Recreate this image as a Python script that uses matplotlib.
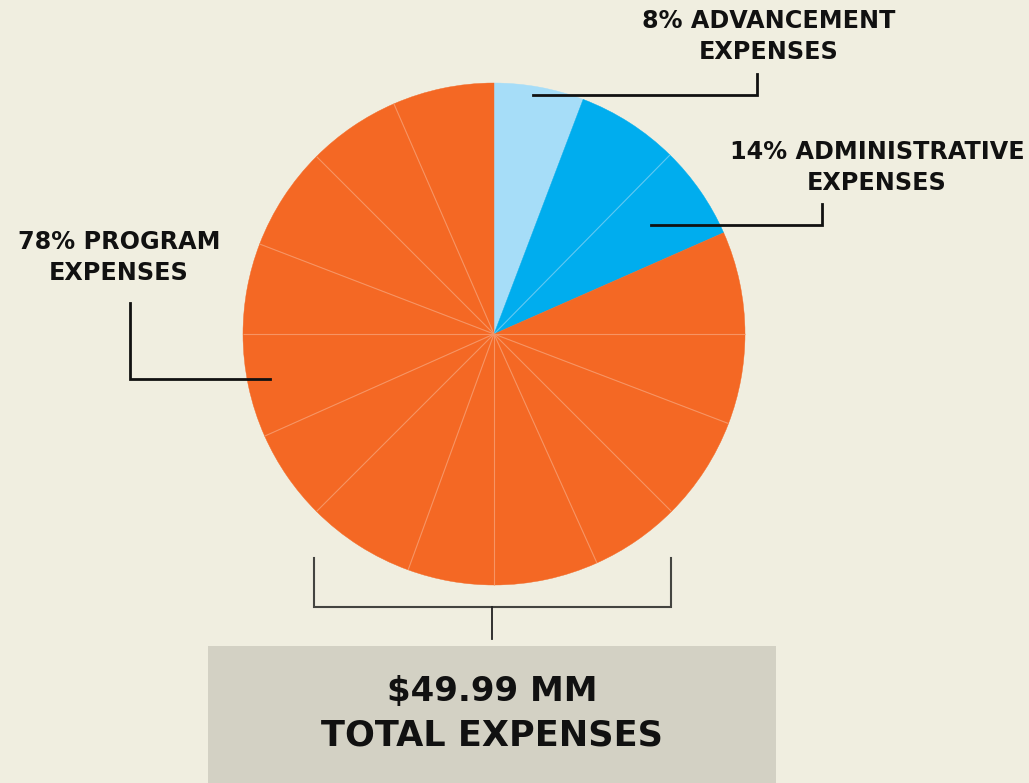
import matplotlib
matplotlib.use("Agg")
import matplotlib.pyplot as plt
from matplotlib.patches import Rectangle
import numpy as np

# ---- data ----
categories = ["ADVANCEMENT", "ADMINISTRATIVE", "PROGRAM"]
percent_labels = [8, 14, 78]
# angular size (degrees) of each icon wedge, read clockwise from 12 o'clock
wedge_sizes = [20.8, 23.7, 21.7, 23.8, 20.9, 24.1, 20.8, 24.2,
               20.0, 25.0, 21.0, 24.0, 21.0, 24.0, 21.5, 23.5]
wedge_groups = ["ADVANCEMENT",
                "ADMINISTRATIVE", "ADMINISTRATIVE"] + ["PROGRAM"] * 13
total_label = "$49.99 MM"
total_caption = "TOTAL EXPENSES"

colors = {"ADVANCEMENT": "#A6DDF8", "ADMINISTRATIVE": "#00ADEE", "PROGRAM": "#F46824"}
divider_colors = {"ADVANCEMENT": "#C4E8FA", "ADMINISTRATIVE": "#5FC8F2", "PROGRAM": "#F79463"}
BG = "#F0EEE0"
BOX = "#D3D1C4"

W, H = 1029, 783
fig = plt.figure(figsize=(W / 100, H / 100), dpi=100, facecolor=BG)
ax = fig.add_axes([0, 0, 1, 1])
ax.set_facecolor(BG)

def Y(y):  # image pixel row -> data y
    return H - y

cx, cy, R = 494, Y(334), 251

wedges, _ = ax.pie(wedge_sizes, colors=[colors[g] for g in wedge_groups],
                   startangle=90, counterclock=False, center=(cx, cy), radius=R,
                   wedgeprops=dict(linewidth=0.3, edgecolor=None), frame=True)
for w, g in zip(wedges, wedge_groups):
    w.set_edgecolor(colors[g])
ax.set_xlim(0, W)
ax.set_ylim(0, H)
ax.set_aspect("equal")
ax.axis("off")

# thin divider lines between wedges of the same group
for i, w in enumerate(wedges):
    g = wedge_groups[i]
    if g != wedge_groups[i - 1]:
        continue
    ang = np.deg2rad(w.theta2)
    ax.plot([cx, cx + R * np.cos(ang)], [cy, cy + R * np.sin(ang)],
            color=divider_colors[g], lw=0.8, solid_capstyle="butt", zorder=3)

font = dict(family="DejaVu Sans", weight="bold", color="#111111")
lw = 2.0
fs = 17.2

# Advancement label
ax.plot([533, 757, 757], [Y(95), Y(95), Y(74)], color="#111111", lw=lw, zorder=4,
        solid_joinstyle="miter")
ax.text(769, Y(21), f"{percent_labels[0]}% {categories[0]}", ha="center", va="center", fontsize=fs, **font)
ax.text(769, Y(52), "EXPENSES", ha="center", va="center", fontsize=fs, **font)

# Administrative label
ax.plot([651, 822, 822], [Y(225), Y(225), Y(204)], color="#111111", lw=lw, zorder=4,
        solid_joinstyle="miter")
ax.text(877, Y(152), f"{percent_labels[1]}% {categories[1]}", ha="center", va="center", fontsize=fs, **font)
ax.text(877, Y(183), "EXPENSES", ha="center", va="center", fontsize=fs, **font)

# Program label
ax.plot([130, 130, 270], [Y(303), Y(379), Y(379)], color="#111111", lw=lw, zorder=4,
        solid_joinstyle="miter")
ax.text(119, Y(242), f"{percent_labels[2]}% {categories[2]}", ha="center", va="center", fontsize=fs, **font)
ax.text(119, Y(273), "EXPENSES", ha="center", va="center", fontsize=fs, **font)

# bottom bracket
bc = "#444440"
ax.plot([314, 314, 671, 671], [Y(558), Y(607), Y(607), Y(558)], color=bc, lw=1.5,
        solid_joinstyle="miter")
ax.plot([492, 492], [Y(607), Y(639)], color="#222222", lw=1.3)

# total box
ax.add_patch(Rectangle((208, 0), 776 - 208, Y(646), facecolor=BOX, edgecolor="none", zorder=2))
ax.text(492, Y(692), total_label, ha="center", va="center", fontsize=24.5, zorder=5, **font)
ax.text(492, Y(736), total_caption, ha="center", va="center", fontsize=25.3, zorder=5, **font)

fig.savefig("out.png", dpi=100, facecolor=BG)
